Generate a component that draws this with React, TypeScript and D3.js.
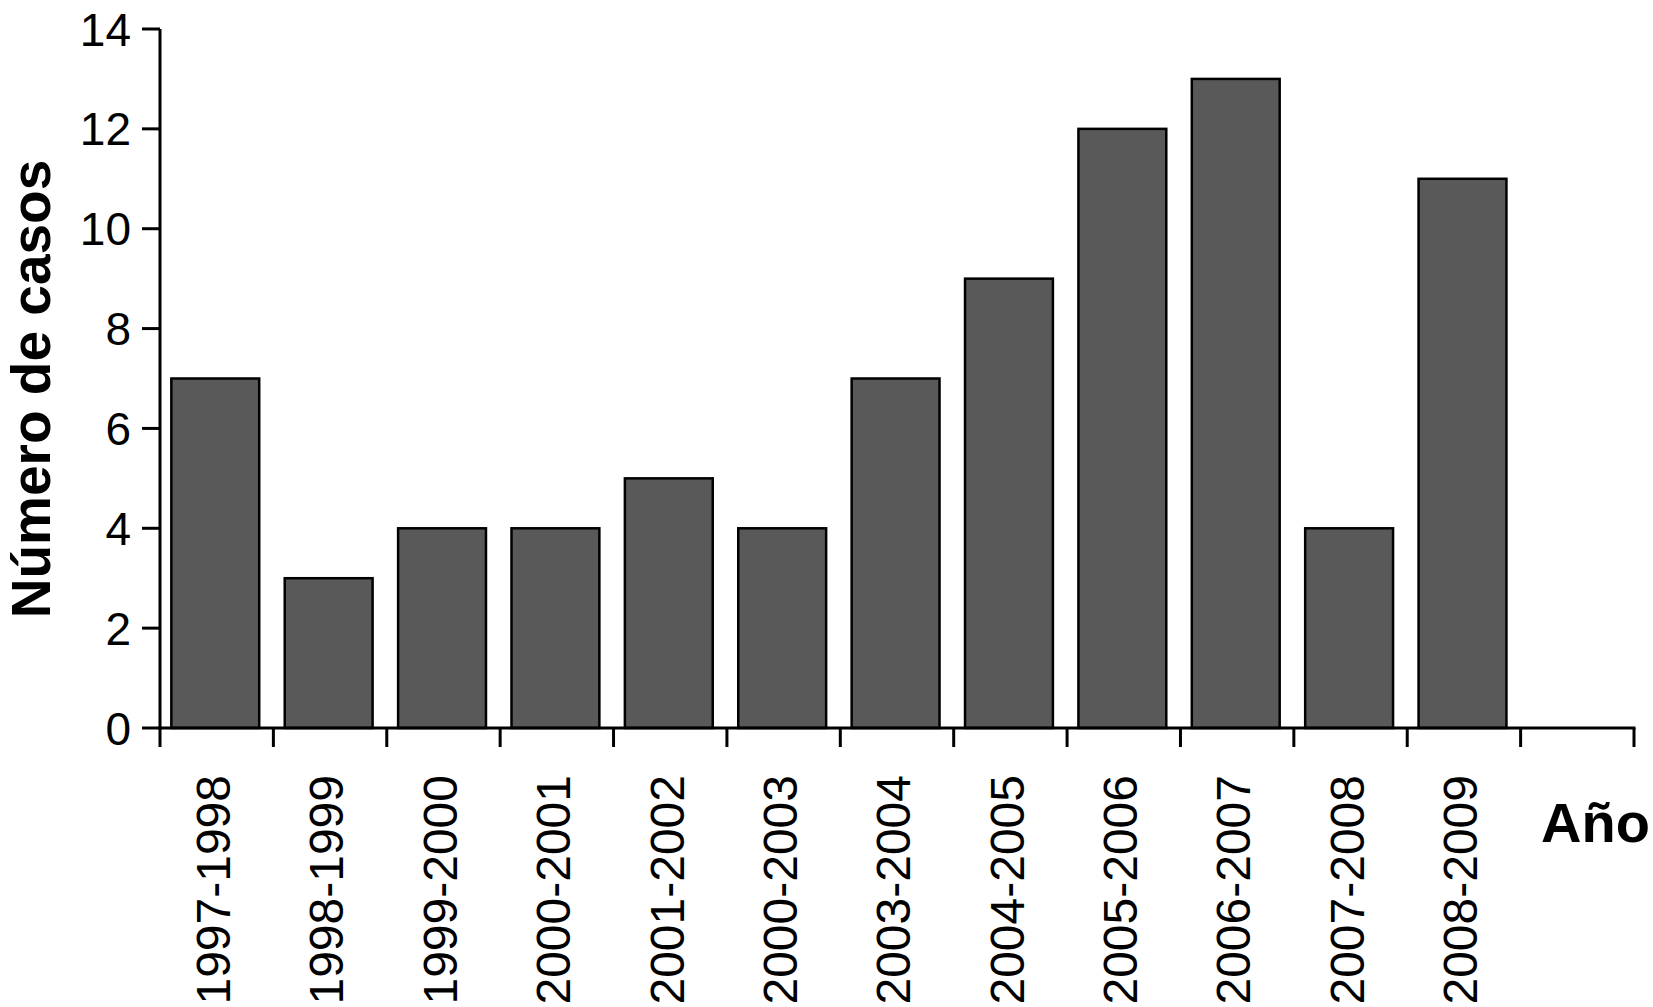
import React from 'react';
import * as d3 from 'd3';

const categories = [
  '1997-1998', '1998-1999', '1999-2000', '2000-2001', '2001-2002', '2000-2003',
  '2003-2004', '2004-2005', '2005-2006', '2006-2007', '2007-2008', '2008-2009',
];
const casos = [7, 3, 4, 4, 5, 4, 7, 9, 12, 13, 4, 11];
const yTicks = [0, 2, 4, 6, 8, 10, 12, 14];

const W = 1653;
const H = 1007;
const FONT = '"Liberation Sans", Arial, Helvetica, sans-serif';

export default function App() {
  // 13 slots on the axis, the last one is empty
  const slots = [...categories, '__empty'];
  const x = d3.scaleBand<string>().domain(slots).range([160, 1634]);
  const y = d3.scaleLinear().domain([0, 14]).range([728, 29]);
  const bw = x.bandwidth();

  return (
    <svg width={W} height={H} style={{ position: 'absolute', left: 0, top: 0, background: '#fff' }}>
      {/* bars */}
      {categories.map((c, i) => (
        <rect
          key={c}
          x={(x(c) as number) + bw * 0.1}
          y={y(casos[i])}
          width={bw * 0.775}
          height={y(0) - y(casos[i])}
          fill="#595959"
          stroke="#000"
          strokeWidth={2.5}
        />
      ))}

      {/* y axis */}
      <line x1={160} x2={160} y1={y(14)} y2={y(0) + 1.5} stroke="#000" strokeWidth={3} />
      {yTicks.map((t) => (
        <g key={t}>
          <line x1={142} x2={160} y1={y(t)} y2={y(t)} stroke="#000" strokeWidth={3} />
          <text x={131} y={y(t)} dy="0.36em" textAnchor="end" fontFamily={FONT} fontSize={46}>
            {t}
          </text>
        </g>
      ))}

      {/* x axis */}
      <line x1={158.5} x2={1635.5} y1={y(0)} y2={y(0)} stroke="#000" strokeWidth={3} />
      {slots.concat('__end').map((s, i) => {
        const px = i < slots.length ? (x(s) as number) : 1634;
        return <line key={s} x1={px} x2={px} y1={y(0)} y2={747} stroke="#000" strokeWidth={3} />;
      })}
      {categories.map((c) => {
        const cx = (x(c) as number) + bw / 2 - 3.5;
        return (
          <text
            key={c}
            transform={`translate(${cx},775) rotate(-90)`}
            dy="0.35em"
            textAnchor="end"
            fontFamily={FONT}
            fontSize={48}
          >
            {c}
          </text>
        );
      })}

      {/* axis titles */}
      <text
        transform="translate(50,389) rotate(-90)"
        textAnchor="middle"
        fontFamily={FONT}
        fontSize={55}
        fontWeight="bold"
      >
        Número de casos
      </text>
      <text x={1541} y={842} fontFamily={FONT} fontSize={56} fontWeight="bold">
        Año
      </text>
    </svg>
  );
}
